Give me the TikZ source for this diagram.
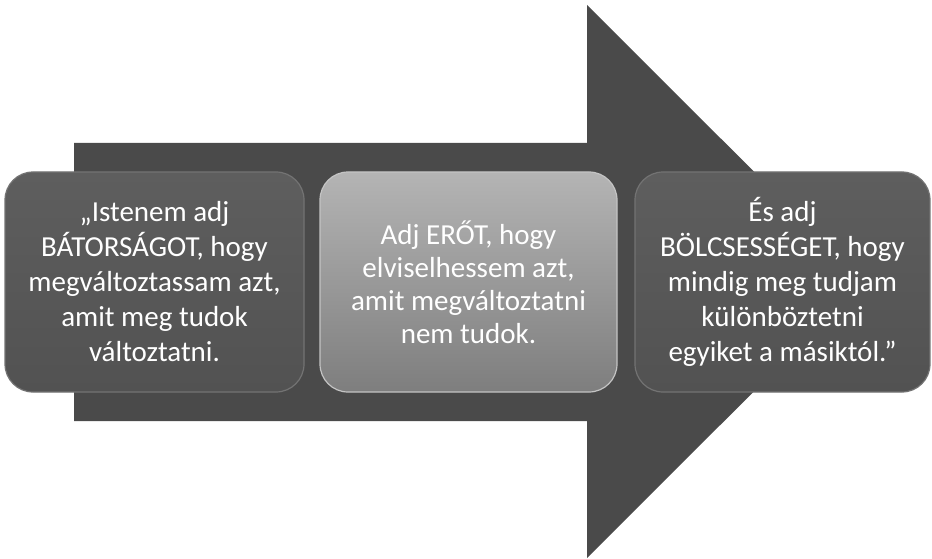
\documentclass[tikz,border=0pt]{standalone}
\usepackage{fontspec}
\setmainfont{Carlito}
\definecolor{arrowgray}{HTML}{4A4A4A}
\definecolor{darktop}{HTML}{5E5E5E}
\definecolor{darkbot}{HTML}{525252}
\definecolor{darkedge}{HTML}{737373}
\definecolor{lighttop}{HTML}{B4B4B4}
\definecolor{lightbot}{HTML}{7E7E7E}
\definecolor{lightedge}{HTML}{C4C4C4}
\begin{document}
\begin{tikzpicture}[x=1pt,y=-1pt,
  card/.style={rounded corners=28pt, minimum height=220pt, inner sep=0pt,
    text=white, align=center, line width=1.2pt,
    font=\fontsize{29}{35}\selectfont},
  darkcard/.style={card, draw=darkedge, top color=darktop, bottom color=darkbot},
  lightcard/.style={card, draw=lightedge, top color=lighttop, bottom color=lightbot,
    font=\fontsize{29}{33}\selectfont},
]
\useasboundingbox (0,0) rectangle (932,559);
% the big arrow behind the three cards
\fill[arrowgray] (74,143) -- (587,143) -- (587,5) -- (864,281.5)
  -- (587,558) -- (587,421) -- (74,421) -- cycle;
% the three cards
\node[darkcard, minimum width=299pt] (c1) at (154.5,282)
  {„Istenem adj\\BÁTORSÁGOT, hogy\\megváltoztassam azt,\\amit meg tudok\\változtatni.};
\node[lightcard, minimum width=297pt] (c2) at (468.5,282)
  {Adj ERŐT, hogy\\elviselhessem azt,\\amit megváltoztatni\\nem tudok.};
\node[darkcard, minimum width=295pt] (c3) at (782.5,282)
  {És adj\\BÖLCSESSÉGET, hogy\\mindig meg tudjam\\különböztetni\\egyiket a másiktól.”};
\end{tikzpicture}
\end{document}
